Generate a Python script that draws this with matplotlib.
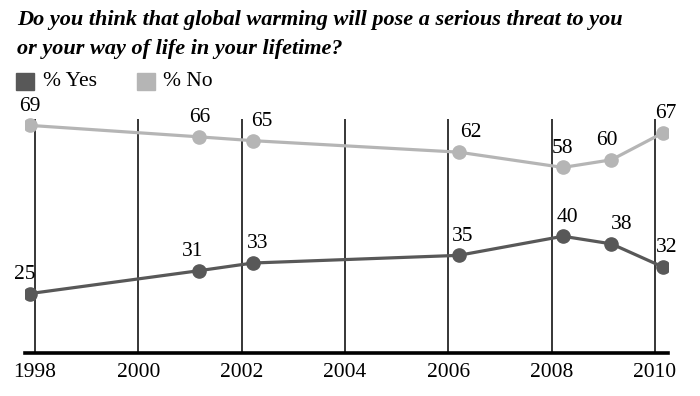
import matplotlib.pyplot as plt

# ── Data (Gallup poll dates, approx. fractional years) ──
dates = [1997.9, 2001.18, 2002.22, 2006.2, 2008.22, 2009.16, 2010.15]
pct_yes = [25, 31, 33, 35, 40, 38, 32]
pct_no = [69, 66, 65, 62, 58, 60, 67]
year_ticks = [1998, 2000, 2002, 2004, 2006, 2008, 2010]

title = ("Do you think that global warming will pose a serious threat to you\n"
         "or your way of life in your lifetime?")

c_yes = "#585858"
c_no = "#b5b5b5"
serif = "Liberation Serif"

fig = plt.figure(figsize=(7, 3.96), dpi=100)
ax = fig.add_axes([0.036, 0.109, 0.918, 0.64])
ax.set_xlim(1997.81, 2010.25)
ax.set_ylim(9.5, 75.8)

# vertical year lines
ax.vlines(year_ticks, 9.5, 70.6, color="black", lw=1.1, zorder=1)

ax.plot(dates, pct_no, color=c_no, lw=2.3, marker="o", ms=9.5, zorder=3)
ax.plot(dates, pct_yes, color=c_yes, lw=2.3, marker="o", ms=9.5, zorder=3)

# value labels (small x nudges to match the original)
dx_no = [0, 0, 6, 9, 0, -3, 2]
dx_yes = [-4, -5, 3, 3, 3, 7, 3]
for x, v, d in zip(dates, pct_no, dx_no):
    ax.annotate(str(v), (x, v), xytext=(d, 7), textcoords="offset points",
                ha="center", va="bottom", fontsize=15.5, family=serif)
for x, v, d in zip(dates, pct_yes, dx_yes):
    ax.annotate(str(v), (x, v), xytext=(d, 7), textcoords="offset points",
                ha="center", va="bottom", fontsize=15.5, family=serif)

for s in ["top", "right", "left"]:
    ax.spines[s].set_visible(False)
ax.spines["bottom"].set_linewidth(2.6)
ax.set_yticks([])
ax.set_xticks(year_ticks)
ax.set_xticklabels([str(y) for y in year_ticks], family=serif, fontsize=15.5)
ax.tick_params(axis="x", length=0, pad=7)

# title
fig.text(0.024, 0.975, title, ha="left", va="top", family=serif,
         fontsize=16, fontweight="bold", fontstyle="italic", linespacing=1.6)

# legend
fig.patches.append(plt.Rectangle((16 / 700, 1 - 90 / 396), 18 / 700, 17 / 396,
                                 transform=fig.transFigure, color=c_yes))
fig.text(43 / 700, 1 - 81 / 396, "% Yes", va="center", family=serif, fontsize=15.5)
fig.patches.append(plt.Rectangle((137 / 700, 1 - 90 / 396), 18 / 700, 17 / 396,
                                 transform=fig.transFigure, color=c_no))
fig.text(163 / 700, 1 - 81 / 396, "% No", va="center", family=serif, fontsize=15.5)

fig.savefig("out.png", dpi=100)
